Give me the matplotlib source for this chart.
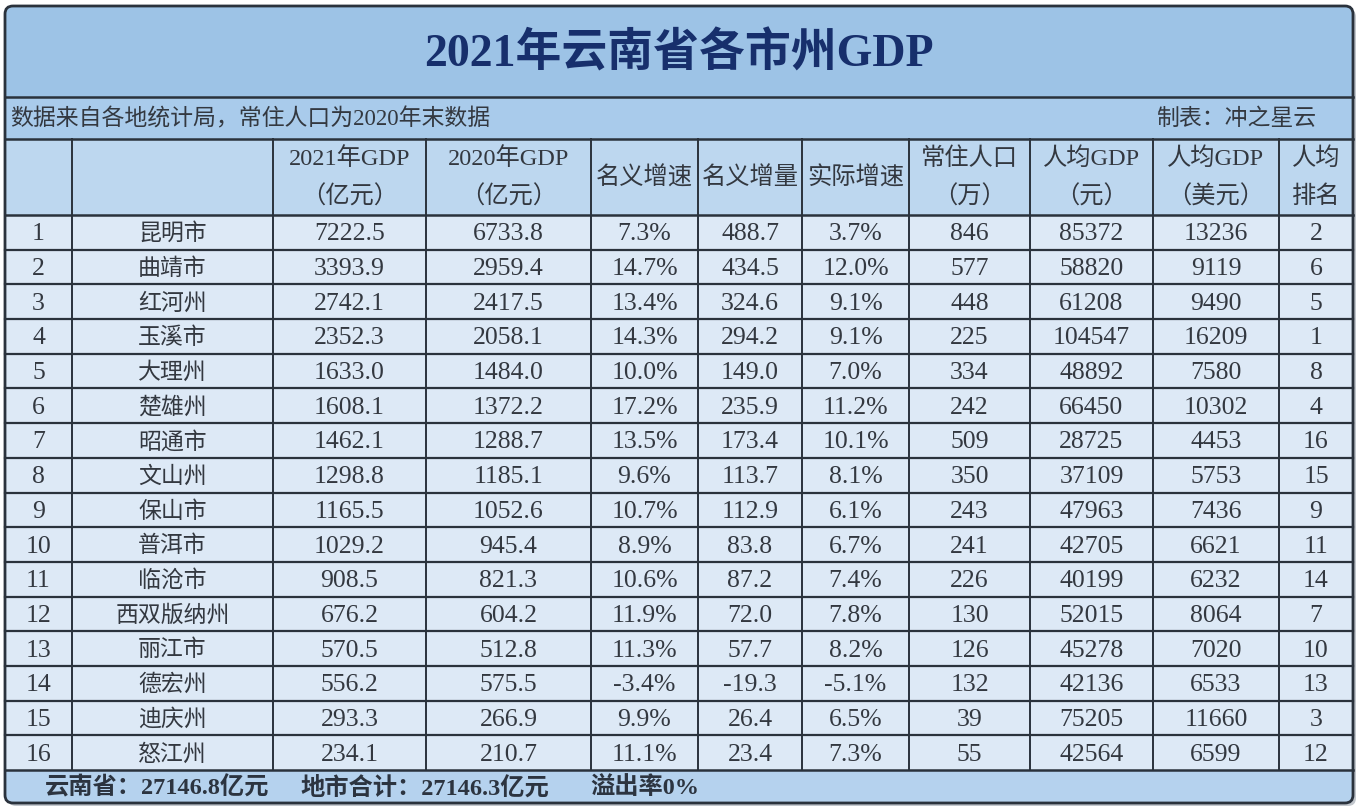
import matplotlib
matplotlib.use("Agg")
import matplotlib.pyplot as plt
from matplotlib.patches import Rectangle, FancyBboxPatch

plt.rcParams['font.family'] = ['Liberation Serif', 'Noto Sans CJK SC', 'DejaVu Sans']

# ---------------- data ----------------
title = "2021年云南省各市州GDP"
note_left = "数据来自各地统计局，常住人口为2020年末数据"
note_right = "制表：冲之星云"
header_top = ["", "", "2021年GDP", "2020年GDP", "名义增速", "名义增量", "实际增速", "常住人口", "人均GDP", "人均GDP", "人均"]
header_bottom = ["", "", "（亿元）", "（亿元）", "", "", "", "（万）", "（元）", "（美元）", "排名"]
cities = ["昆明市", "曲靖市", "红河州", "玉溪市", "大理州", "楚雄州", "昭通市", "文山州",
          "保山市", "普洱市", "临沧市", "西双版纳州", "丽江市", "德宏州", "迪庆州", "怒江州"]
gdp2021 = [7222.5, 3393.9, 2742.1, 2352.3, 1633.0, 1608.1, 1462.1, 1298.8,
           1165.5, 1029.2, 908.5, 676.2, 570.5, 556.2, 293.3, 234.1]
gdp2020 = [6733.8, 2959.4, 2417.5, 2058.1, 1484.0, 1372.2, 1288.7, 1185.1,
           1052.6, 945.4, 821.3, 604.2, 512.8, 575.5, 266.9, 210.7]
nominal_growth = [7.3, 14.7, 13.4, 14.3, 10.0, 17.2, 13.5, 9.6,
                  10.7, 8.9, 10.6, 11.9, 11.3, -3.4, 9.9, 11.1]
nominal_increase = [488.7, 434.5, 324.6, 294.2, 149.0, 235.9, 173.4, 113.7,
                    112.9, 83.8, 87.2, 72.0, 57.7, -19.3, 26.4, 23.4]
real_growth = [3.7, 12.0, 9.1, 9.1, 7.0, 11.2, 10.1, 8.1,
               6.1, 6.7, 7.4, 7.8, 8.2, -5.1, 6.5, 7.3]
population = [846, 577, 448, 225, 334, 242, 509, 350, 243, 241, 226, 130, 126, 132, 39, 55]
per_capita_cny = [85372, 58820, 61208, 104547, 48892, 66450, 28725, 37109,
                  47963, 42705, 40199, 52015, 45278, 42136, 75205, 42564]
per_capita_usd = [13236, 9119, 9490, 16209, 7580, 10302, 4453, 5753,
                  7436, 6621, 6232, 8064, 7020, 6533, 11660, 6599]
per_capita_rank = [2, 6, 5, 1, 8, 4, 16, 15, 9, 11, 14, 7, 10, 13, 3, 12]
footer_labels = ["云南省：", "地市合计：", "溢出率"]
footer_values = ["27146.8亿元", "27146.3亿元", "0%"]

# ---------------- layout ----------------
W, H = 1362, 812
col_edges = [5, 72, 273, 426, 591, 698, 802, 909, 1030, 1153, 1279, 1353]
top, title_bottom, note_bottom, head_bottom, table_bottom, bottom = 7, 98, 140, 216, 771, 804
n = len(cities)
row_h = (table_bottom - head_bottom) / n

C_TITLE_BAND = "#9dc3e6"
C_NOTE_BAND = "#a9cbeb"
C_HEAD = "#bdd7ef"
C_CELL = "#dde9f6"
C_FOOT = "#b5d2ee"
C_LINE = "#2a323c"
C_TEXT = "#333840"
C_TITLE = "#172f6c"

fig = plt.figure(figsize=(W / 100, H / 100), dpi=100)
ax = fig.add_axes([0, 0, 1, 1])
ax.set_xlim(0, W)
ax.set_ylim(H, 0)
ax.axis("off")
fig.patch.set_facecolor("white")

left, right = col_edges[0], col_edges[-1]

# shadow + outer rounded box
ax.add_patch(FancyBboxPatch((left + 3, top + 3), right - left, bottom - top,
                            boxstyle="round,pad=0,rounding_size=8",
                            facecolor="#9aa3ad", edgecolor="none", zorder=0, alpha=0.6))
ax.add_patch(FancyBboxPatch((left, top), right - left, bottom - top,
                            boxstyle="round,pad=0,rounding_size=8",
                            facecolor=C_TITLE_BAND, edgecolor="none", zorder=1))
# bands
ax.add_patch(Rectangle((left, title_bottom), right - left, note_bottom - title_bottom,
                       facecolor=C_NOTE_BAND, edgecolor="none", zorder=2))
ax.add_patch(Rectangle((left, head_bottom), right - left, table_bottom - head_bottom,
                       facecolor=C_CELL, edgecolor="none", zorder=2))
ax.add_patch(Rectangle((left, note_bottom), right - left, head_bottom - note_bottom,
                       facecolor=C_HEAD, edgecolor="none", zorder=2))
ax.add_patch(FancyBboxPatch((left, table_bottom), right - left, bottom - table_bottom,
                            boxstyle="round,pad=0,rounding_size=8",
                            facecolor=C_FOOT, edgecolor="none", zorder=2))
ax.add_patch(Rectangle((left, table_bottom), right - left, 10,
                       facecolor=C_FOOT, edgecolor="none", zorder=2))

# lines
for y in [title_bottom, note_bottom, head_bottom, table_bottom]:
    ax.plot([left, right], [y, y], color=C_LINE, lw=1.8, zorder=4)
for i in range(1, n):
    y = head_bottom + i * row_h
    ax.plot([left, right], [y, y], color=C_LINE, lw=1.6, zorder=4)
for x in col_edges[1:-1]:
    ax.plot([x, x], [note_bottom, table_bottom], color=C_LINE, lw=1.4, zorder=4)
ax.add_patch(FancyBboxPatch((left, top), right - left, bottom - top,
                            boxstyle="round,pad=0,rounding_size=8",
                            facecolor="none", edgecolor=C_LINE, lw=2.0, zorder=5))

# title and notes
ax.text((left + right) / 2, (top + title_bottom) / 2 + 2, title, ha="center", va="center",
        fontsize=33, fontweight="bold", color=C_TITLE, zorder=6)
ax.text(10, (title_bottom + note_bottom) / 2, note_left, ha="left", va="center",
        fontsize=16.5, color=C_TEXT, zorder=6)
ax.text(1316, (title_bottom + note_bottom) / 2, note_right, ha="right", va="center",
        fontsize=16.5, color=C_TEXT, zorder=6)

# header
centers = [(col_edges[i] + col_edges[i + 1]) / 2 for i in range(len(col_edges) - 1)]
hy1, hy2 = note_bottom + 19, note_bottom + 57
for cx, t1, t2 in zip(centers, header_top, header_bottom):
    if t2:
        ax.text(cx, hy1, t1, ha="center", va="center", fontsize=17.5, color=C_TEXT, zorder=6)
        ax.text(cx, hy2, t2, ha="center", va="center", fontsize=17.5, color=C_TEXT, zorder=6)
    elif t1:
        ax.text(cx, (note_bottom + head_bottom) / 2, t1, ha="center", va="center",
                fontsize=17.5, color=C_TEXT, zorder=6)

# body
for i in range(n):
    cy = head_bottom + (i + 0.5) * row_h + 1
    vals = [str(i + 1), cities[i], f"{gdp2021[i]:.1f}", f"{gdp2020[i]:.1f}",
            f"{nominal_growth[i]:.1f}%", f"{nominal_increase[i]:.1f}", f"{real_growth[i]:.1f}%",
            str(population[i]), str(per_capita_cny[i]), str(per_capita_usd[i]),
            str(per_capita_rank[i])]
    for j, (cx, v) in enumerate(zip(centers, vals)):
        fs = 16.5 if j == 1 else 18.5
        ax.text(cx, cy, v, ha="center", va="center", fontsize=fs, color=C_TEXT, zorder=6)

# footer
fy = (table_bottom + bottom) / 2
for x0, lab, val in zip([45, 300, 590], footer_labels, footer_values):
    ax.text(x0, fy, lab + val, ha="left", va="center",
            fontsize=17.5, fontweight="bold", color="#2c3440", zorder=6)

fig.savefig("out.png", dpi=100, facecolor="white")
